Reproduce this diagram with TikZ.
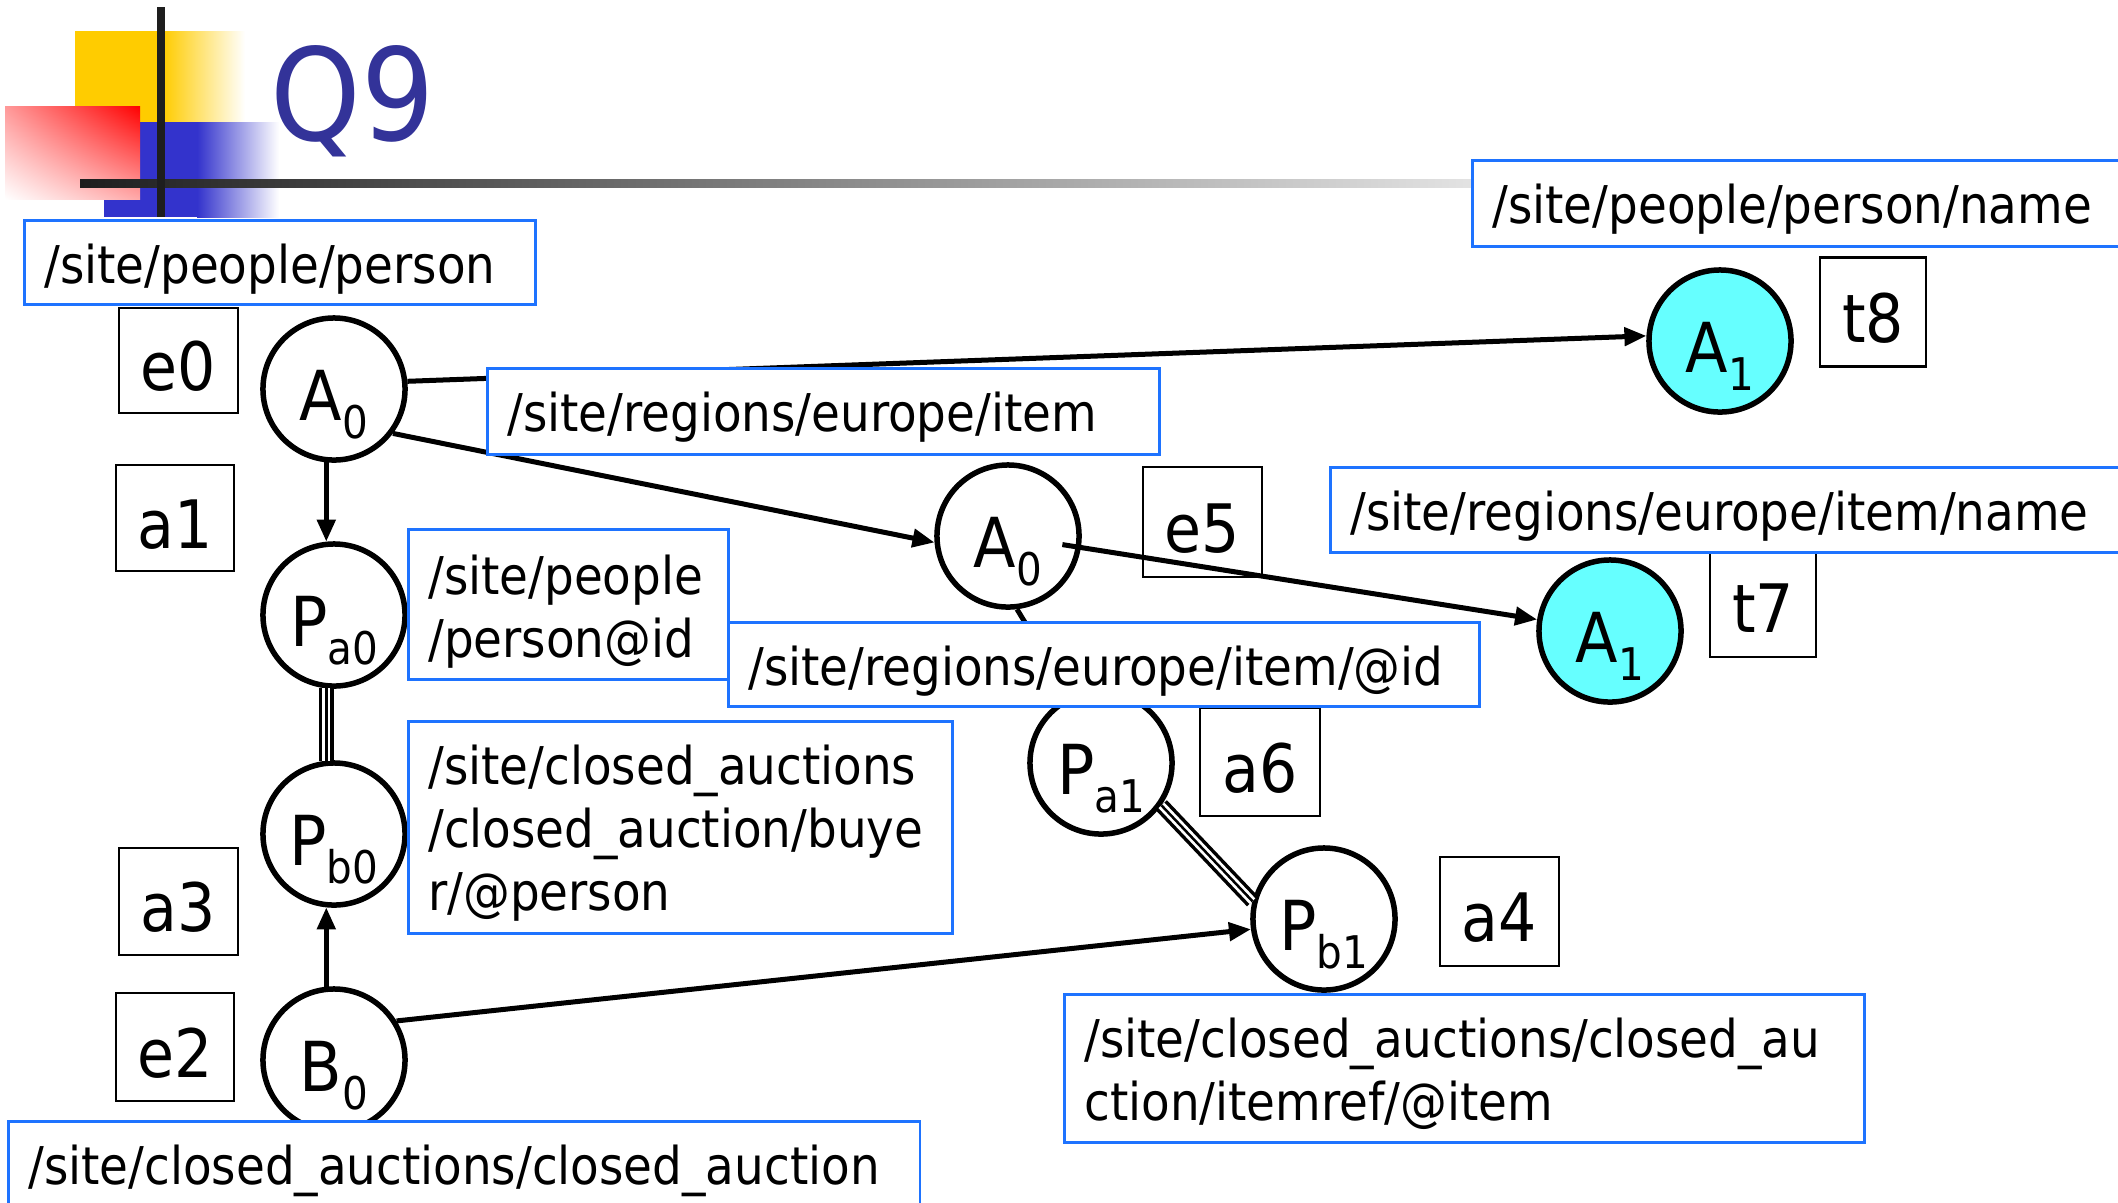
\documentclass[tikz,border=0pt]{standalone}
\usepackage{fontspec}
\setmainfont{DejaVu Sans Condensed}
\usetikzlibrary{arrows.meta,calc,shadings}
\definecolor{boxblue}{RGB}{30,115,255}
\definecolor{titleblue}{RGB}{51,51,153}
\definecolor{logoyellow}{RGB}{255,204,0}
\definecolor{logoblue}{RGB}{51,51,204}
\definecolor{cyanfill}{RGB}{102,255,255}
\definecolor{barblack}{RGB}{30,30,30}
\definecolor{barlight}{RGB}{228,228,228}
\newcommand\pathfont{\fontsize{14.8pt}{17.93pt}\selectfont}
\newcommand\labfont{\fontsize{19pt}{22pt}\selectfont}
\newcommand\circfont{\fontsize{19.6pt}{22pt}\selectfont}
\newcommand\titlefont{\fontsize{36.4pt}{40pt}\selectfont}
\newcommand\csub[1]{\raisebox{-0.18cm}{\fontsize{12.8pt}{14pt}\selectfont #1}}
\tikzset{
  pathbox/.style={draw=boxblue, fill=white, line width=0.025cm, anchor=north west,
    inner ysep=0pt, inner xsep=0.2cm, text height=0.63cm, align=left, font=\pathfont},
  lab/.style={draw=black, line width=0.025cm, inner sep=0pt, font=\labfont,
    text height=0.6cm, text depth=0cm},
  vert/.style={circle, draw=black, line width=0.055cm, minimum size=1.42cm, inner sep=0pt,
    text height=0.7cm, text depth=0.08cm, font=\circfont},
  res/.style={vert, fill=cyanfill},
  edgeline/.style={draw=black, line width=0.05cm},
  arr/.style={edgeline, -{Triangle[length=0.22cm, width=0.18cm]}},
  triple/.style={draw=black, line width=0.15cm,
    postaction={draw=white, line width=0.08cm},
    postaction={draw=black, line width=0.025cm}}
}
\begin{document}
\begin{tikzpicture}[x=0.01cm, y=-0.01cm]
\useasboundingbox (0,0) rectangle (2118,1202);
\clip (0,0) rectangle (2118,1202);
\fill[white] (0,0) rectangle (2118,1202);

% logo
\fill[logoyellow] (75,31) rectangle (163,122);
\shade[left color=logoyellow, right color=white] (163,31) rectangle (245,122);
\fill[logoblue] (104,122) rectangle (197,217);
\shade[left color=logoblue, right color=white] (197,122) rectangle (279,217);
\shade[upper right=red, lower left=white, upper left=red!40, lower right=red!34] (5,106) rectangle (140,199);
\shade[left color=barblack, right color=barlight] (80,179) rectangle (1480,187);
\fill[barblack] (157,7) rectangle (165,217);
\node[anchor=base west, text=titleblue, font=\titlefont, inner sep=0pt] (title) at (270,140) {Q9};

% label boxes
\node[lab, minimum width=1.19cm, minimum height=1.05cm] (e0) at (178.5,360.5) {e0};
\node[lab, minimum width=1.18cm, minimum height=1.06cm] (a1) at (175,518) {a1};
\node[lab, minimum width=1.19cm, minimum height=1.07cm] (a3) at (178.5,901.5) {a3};
\node[lab, minimum width=1.18cm, minimum height=1.08cm] (e2) at (175,1047) {e2};
\node[lab, minimum width=1.06cm, minimum height=1.09cm] (t8) at (1873,312) {t8};
\node[lab, minimum width=1.19cm, minimum height=1.10cm] (e5) at (1202.5,522) {e5};
\node[lab, minimum width=1.06cm, minimum height=1.09cm] (t7) at (1763,602.5) {t7};
\node[lab, minimum width=1.20cm, minimum height=1.08cm] (a6) at (1260,762) {a6};
\node[lab, minimum width=1.19cm, minimum height=1.09cm] (a4) at (1499.5,911.5) {a4};

% vertices
\node[vert] (A0l) at (334,389) {A\csub{0}};
\node[vert] (Pa0) at (334,615) {P\csub{a0}};
\node[vert] (Pb0) at (334,834) {P\csub{b0}};
\node[vert] (B0) at (334,1060) {B\csub{0}};
\node[vert] (A0m) at (1008,536) {A\csub{0}};
\node[vert] (Pa1) at (1101,763) {P\csub{a1}};
\node[vert] (Pb1) at (1324,919) {P\csub{b1}};
\node[res] (A1t) at (1720,341) {A\csub{1}};
\node[res] (A1b) at (1610,631) {A\csub{1}};

% edges
\draw[arr] (A0l.6) -- (A1t.176);
\draw[arr] (A0l.-37) -- (A0m.185);
\draw[arr] (A0l.264) -- (Pa0.96);
\draw[triple] (Pa0.264) -- (Pb0.96);
\draw[arr] (B0.96) -- (Pb0.264);
\draw[arr] (B0.32) -- (Pb1.188);
\draw[arr, shorten <=0.55cm] (A0m.center) -- (A1b);
\draw[arr] (A0m.-83) -- (Pa1.115);
\draw[triple] (Pa1.-35) -- (Pb1.166);

% path boxes
\node[pathbox, text width=4.71cm, text depth=0.21cm] (bperson) at (23,219) {/site/people/person};
\node[pathbox, text width=6.6cm, text depth=0.23cm] (bpname) at (1471,159) {/site/people/person/name};
\node[pathbox, text width=6.32cm, text depth=0.23cm] (bitem) at (486,367) {/site/regions/europe/item};
\node[pathbox, text width=7.6cm, text depth=0.22cm] (biname) at (1329,466) {/site/regions/europe/item/name};
\node[pathbox, text width=2.8cm, text height=0.65cm, text depth=0.85cm] (bpid) at (407,528) {/site/people\\/person@id};
\node[pathbox, text width=7.11cm, text depth=0.21cm] (bitemid) at (727,621) {/site/regions/europe/item/@id};
\node[pathbox, text width=5.04cm, text depth=1.49cm] (bbuyer) at (407,720) {/site/closed\_auctions\\/closed\_auction/buye\\r/@person};
\node[pathbox, text width=7.6cm, text depth=0.85cm] (bitemref) at (1063,993) {/site/closed\_auctions/closed\_au\\ction/itemref/@item};
\node[pathbox, text width=8.71cm, text depth=0.57cm] (bclosed) at (7,1120) {/site/closed\_auctions/closed\_auction};
\end{tikzpicture}
\end{document}
